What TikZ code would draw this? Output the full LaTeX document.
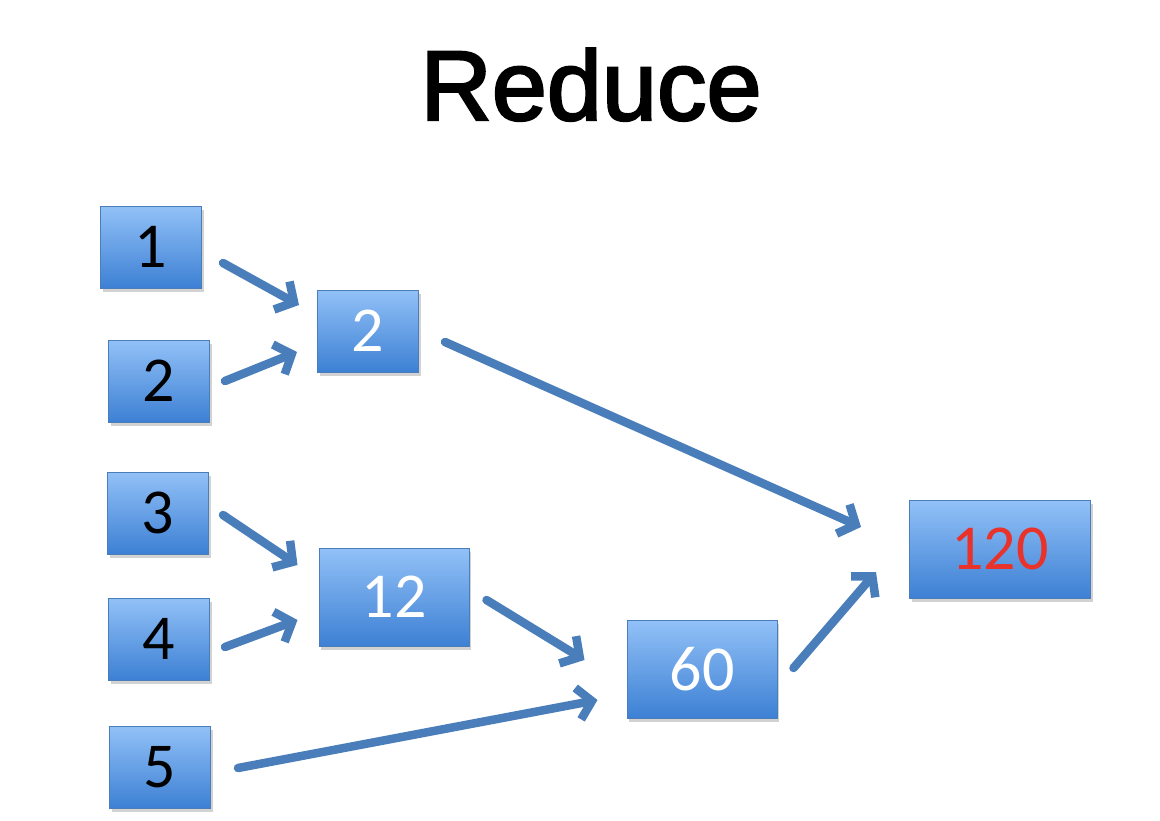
\documentclass[tikz,border=0pt]{standalone}
\usepackage{fontspec}
\setmainfont{Liberation Sans}
\newfontfamily\titlefont[FakeBold=2.4]{Liberation Sans}
\newfontfamily\boxfont{Carlito}
\usetikzlibrary{arrows.meta,shadows,calc}
\definecolor{arrowblue}{HTML}{4A7EBB}
\definecolor{boxtop}{HTML}{92C1F7}
\definecolor{boxbot}{HTML}{3D80D4}
\definecolor{boxedge}{HTML}{4A7EBB}
\definecolor{numred}{HTML}{E8322A}
\tikzset{
  cell/.style={rectangle, draw=boxedge, line width=1pt, top color=boxtop, bottom color=boxbot,
    minimum width=101pt, minimum height=82pt, inner sep=0pt,
    font=\boxfont\fontsize{64}{64}\selectfont,
    drop shadow={opacity=0.35, shadow xshift=2pt, shadow yshift=-4pt}},
  widecell/.style={cell, minimum width=150pt, minimum height=98pt},
  flow/.style={draw=arrowblue, line width=8.5pt, line cap=round, line join=round,
    -{Straight Barb[length=14pt, width=32pt, line width=8.5pt]}}
}
\begin{document}
\begin{tikzpicture}[x=1pt, y=-1pt]
\useasboundingbox (0,0) rectangle (1160,820);
\fill[white] (0,0) rectangle (1160,820);
\node[anchor=base, font=\titlefont\fontsize{99}{100}\selectfont] (title) at (591,120) {Reduce};

\node[cell, text=black] (n1) at (151,247) {1};
\node[cell, text=black] (n2) at (159,381) {2};
\node[cell, text=black] (n3) at (158,513) {3};
\node[cell, text=black] (n4) at (159,639) {4};
\node[cell, text=black] (n5) at (160,767) {5};
\node[cell, text=white] (m2) at (368,331) {2};
\node[widecell, text=white] (m12) at (394,597) {12};
\node[widecell, text=white] (m60) at (702,669) {60};
\node[widecell, minimum width=181pt, text=numred] (r120) at (1000,549) {120};

\draw[flow] ($(n1.east)+(21,16)$) -- ($(m2.west)+(-18,-26)$);
\draw[flow] ($(n2.east)+(15,0)$) -- ($(m2.west)+(-20,21)$);
\draw[flow] ($(m2.east)+(26,11)$) -- ($(r120.west)+(-48,-22)$);
\draw[flow] ($(n3.east)+(14,2)$) -- ($(m12.west)+(-21,-32)$);
\draw[flow] ($(n4.east)+(15,8)$) -- ($(m12.west)+(-21,23)$);
\draw[flow] ($(m12.east)+(17,3)$) -- ($(m60.west)+(-42,-9)$);
\draw[flow] ($(n5.east)+(27,1)$) -- ($(m60.west)+(-29,31)$);
\draw[flow] ($(m60.east)+(16,-1)$) -- ($(r120.west)+(-33,23)$);
\end{tikzpicture}
\end{document}
